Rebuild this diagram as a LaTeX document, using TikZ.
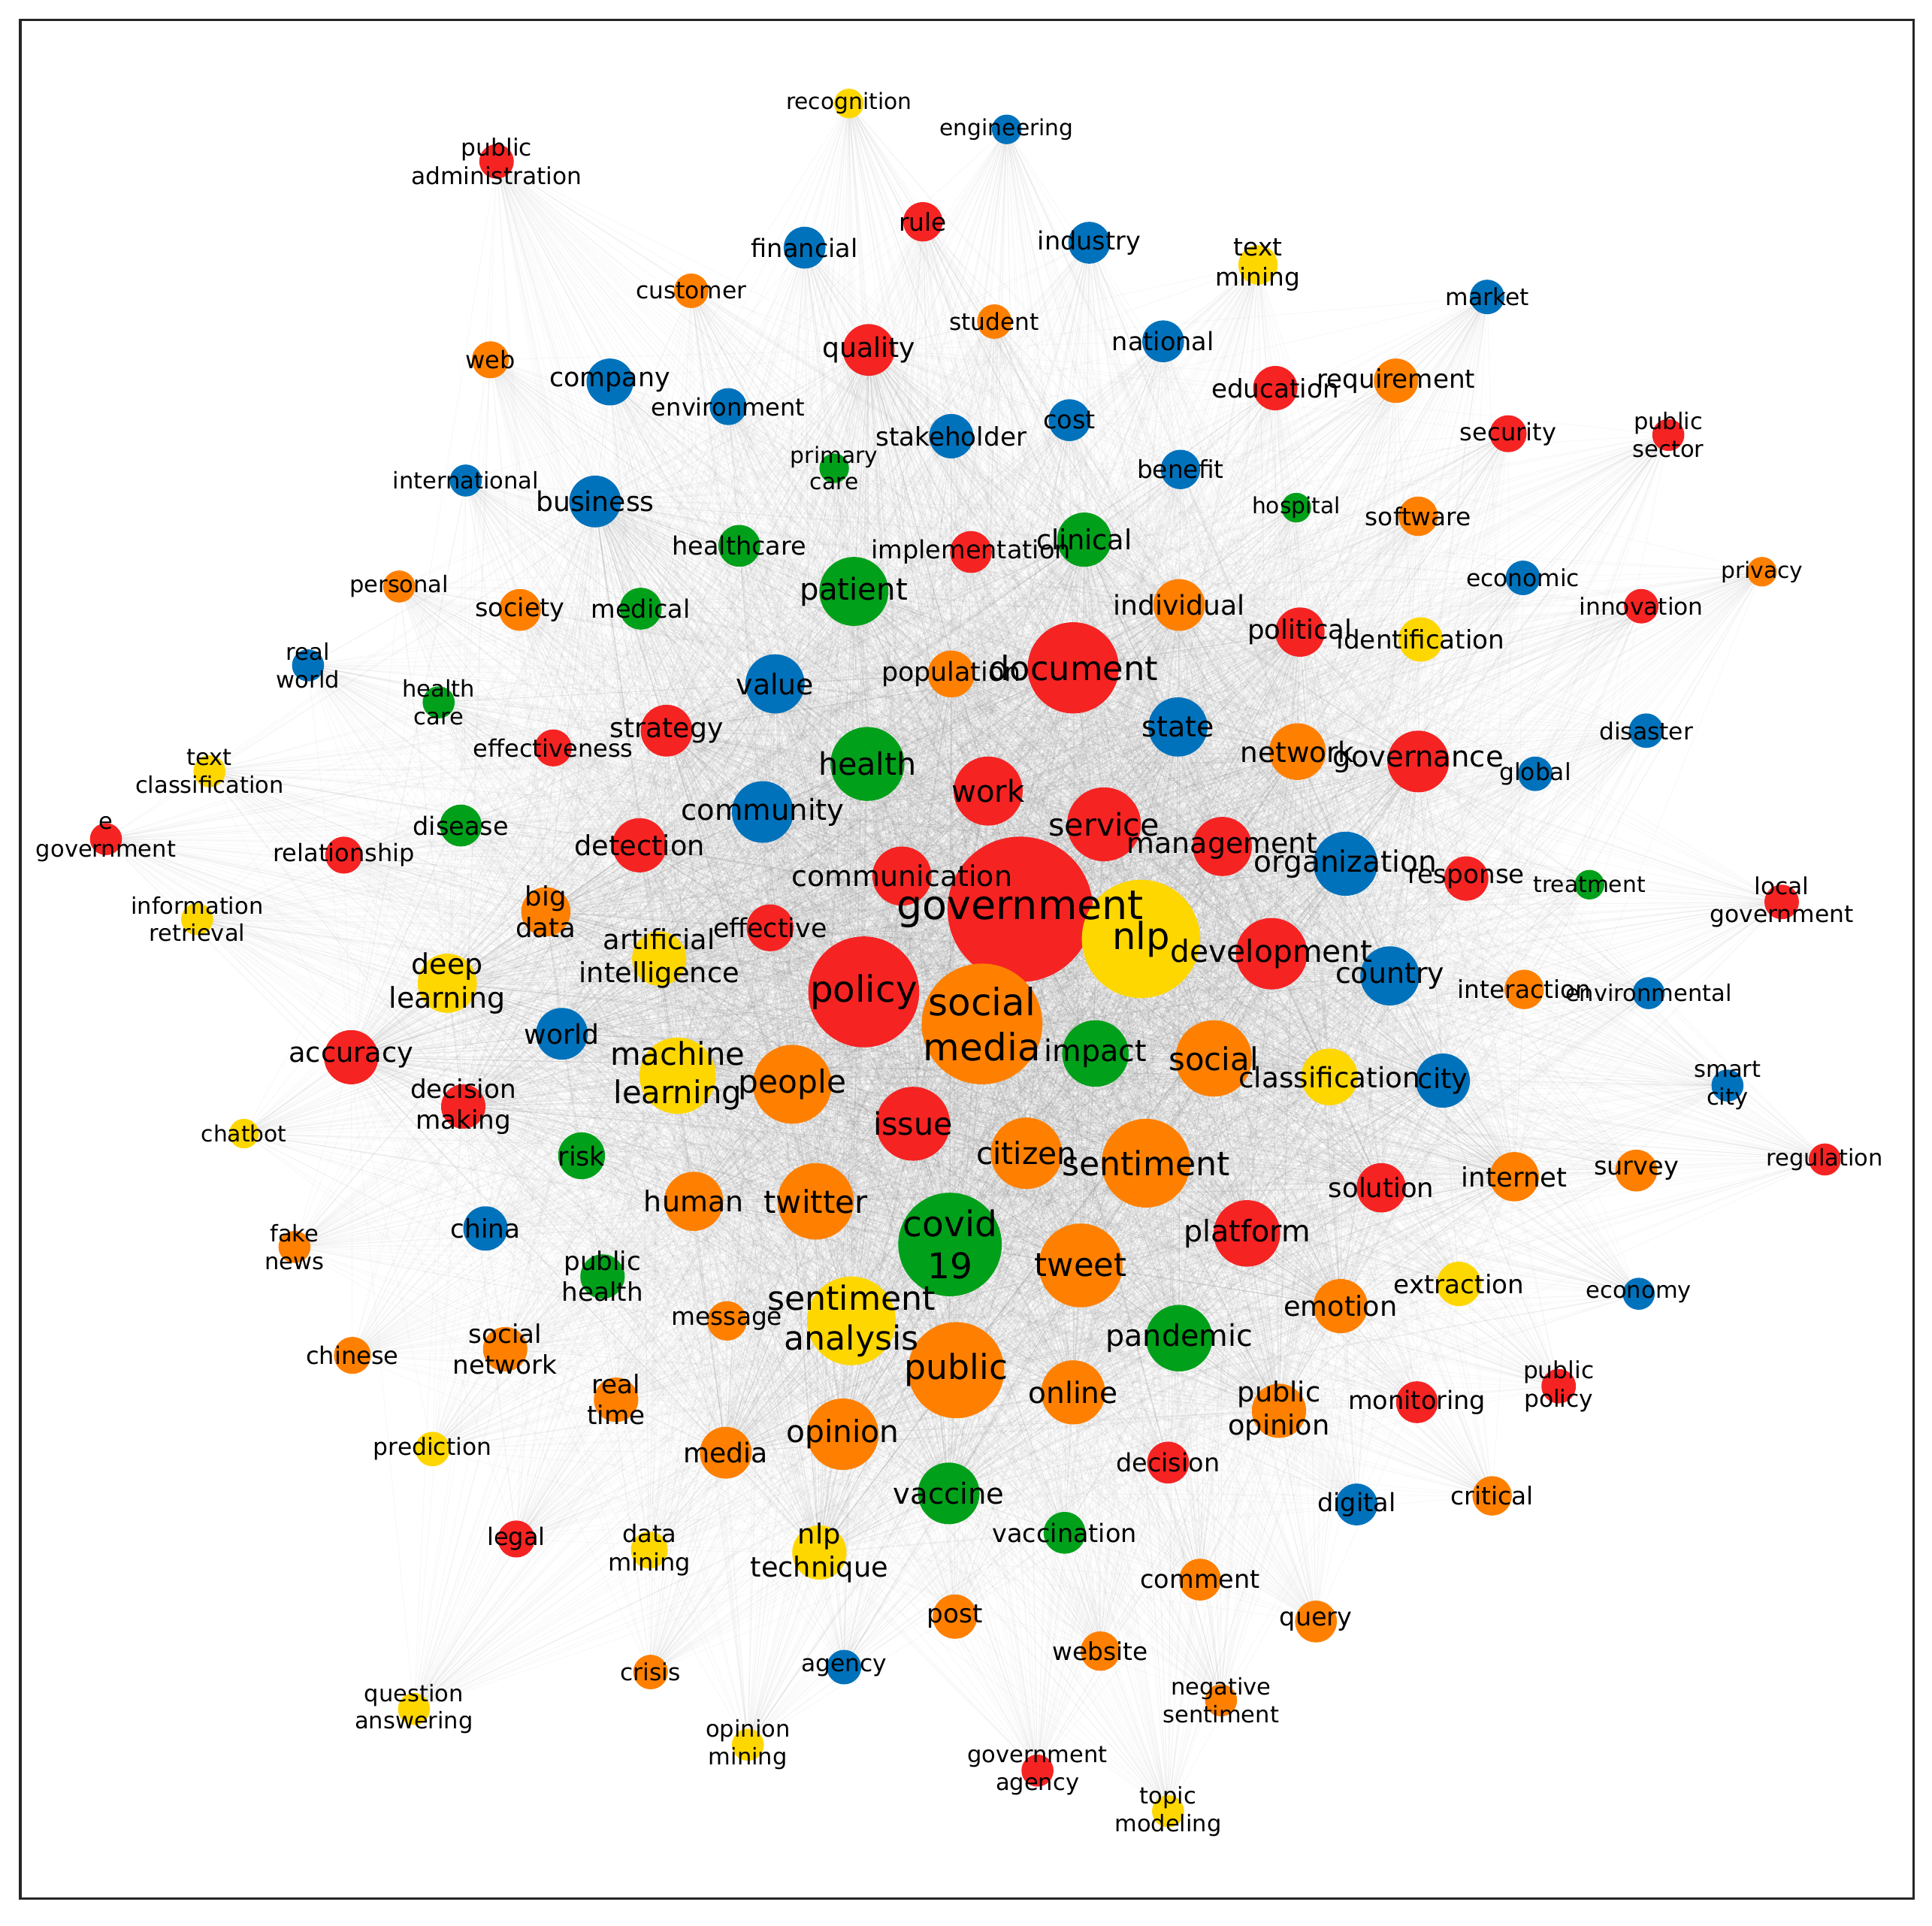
\documentclass[tikz,border=0pt]{standalone}
\usepackage{fontspec}
\setmainfont{DejaVu Sans}
\usetikzlibrary{backgrounds}
\definecolor{R}{HTML}{F62323}
\definecolor{O}{HTML}{FF8000}
\definecolor{Y}{HTML}{FFD700}
\definecolor{B}{HTML}{0072BC}
\definecolor{G}{HTML}{00A01A}
\tikzset{
  kw/.style={circle, inner sep=0pt, draw=none},
  kwlabel/.style={inner sep=0pt, align=center, text=black},
  edge/.style={draw=black!45, line width=0.55pt, draw opacity=0.065},
  frame/.style={draw=black!85, line width=2pt}
}
\def\nodelist{%
recognition/689/84/12/Y/recognition,
engineering/817/105/12/B/engineering,
pubadmin/403/131/14/R/public\\administration,
rule/749/180/16/R/rule,
financial/653/201/17/B/financial,
industry/884/197/17/B/industry,
textmining/1021/215/16/Y/text\\mining,
customer/561/236/14/O/customer,
student/807/261/14/O/student,
market/1207/241/14/B/market,
quality/705/284/21/R/quality,
national/944/277/17/B/national,
web/398/292/15/O/web,
company/495/310/19/B/company,
environment/591/330/15/B/environment,
education/1035/315/18/R/education,
requirement/1133/309/18/O/requirement,
cost/868/341/17/B/cost,
stakeholder/772/354/18/B/stakeholder,
security/1224/352/15/R/security,
pubsector/1354/353/13/R/public\\sector,
primarycare/677/380/12/G/primary\\care,
international/378/390/13/B/international,
benefit/958/381/16/B/benefit,
business/483/407/21/B/business,
hospital/1052/412/12/G/hospital,
software/1151/419/16/O/software,
healthcare/600/443/17/G/healthcare,
implementation/788/448/17/R/implementation,
clinical/880/438/22/G/clinical,
personal/324/476/13/O/personal,
society/422/495/17/O/society,
medical/520/494/17/G/medical,
patient/693/480/28/G/patient,
individual/957/491/21/O/individual,
economic/1236/469/14/B/economic,
privacy/1430/464/12/O/privacy,
innovation/1332/492/14/R/innovation,
political/1055/513/20/R/political,
identification/1153/519/18/Y/identification,
realworld/250/540/13/B/real\\world,
value/629/555/24/B/value,
population/772/547/19/O/population,
document/871/542/37/R/document,
healthcaretwo/356/570/13/G/health\\care,
state/956/590/24/B/state,
strategy/541/593/21/R/strategy,
effectiveness/449/607/15/R/effectiveness,
textclass/170/626/13/Y/text\\classification,
disaster/1336/593/14/B/disaster,
network/1053/610/23/O/network,
governance/1151/618/25/R/governance,
global/1246/628/14/B/global,
health/704/620/30/G/health,
work/802/642/28/R/work,
community/619/659/25/B/community,
service/896/669/30/R/service,
disease/374/670/17/G/disease,
egov/86/681/13/R/e\\government,
relationship/279/694/15/R/relationship,
detection/519/686/22/R/detection,
management/992/687/24/R/management,
organization/1092/701/26/B/organization,
communication/732/711/24/R/communication,
response/1190/713/18/R/response,
treatment/1290/718/12/G/treatment,
localgov/1446/732/14/R/local\\government,
inforet/160/746/13/Y/information\\retrieval,
bigdata/443/740/20/O/big\\data,
government/828/738/59/R/government,
effective/625/753/19/R/effective,
ai/535/778/22/Y/artificial\\intelligence,
nlp/926/762/48/Y/nlp,
development/1032/774/29/R/development,
deeplearning/363/798/24/Y/deep\\learning,
country/1128/792/24/B/country,
interaction/1237/803/16/O/interaction,
environmental/1338/806/13/B/environmental,
policy/701/805/45/R/policy,
socialmedia/797/831/49/O/social\\media,
world/456/839/21/B/world,
accuracy/285/858/22/R/accuracy,
impact/889/855/27/G/impact,
social/985/859/31/O/social,
ml/550/873/31/Y/machine\\learning,
people/643/880/32/O/people,
classification/1079/874/23/Y/classification,
city/1171/877/22/B/city,
smartcity/1402/881/13/B/smart\\city,
decisionmaking/376/898/18/R/decision\\making,
chatbot/198/920/12/Y/chatbot,
issue/741/912/30/R/issue,
risk/472/938/19/G/risk,
citizen/833/936/29/O/citizen,
sentiment/930/944/36/O/sentiment,
regulation/1481/941/13/R/regulation,
survey/1328/950/17/O/survey,
solution/1121/964/20/R/solution,
internet/1229/955/20/O/internet,
human/563/975/24/O/human,
twitter/662/975/31/O/twitter,
china/394/997/18/B/china,
fakenews/239/1012/13/O/fake\\news,
covid/771/1010/42/G/covid\\19,
platform/1012/1001/27/R/platform,
tweet/877/1027/34/O/tweet,
publichealth/489/1036/18/G/public\\health,
extraction/1184/1042/18/Y/extraction,
economy/1330/1050/13/B/economy,
sa/691/1072/36/Y/sentiment\\analysis,
message/590/1072/16/O/message,
emotion/1088/1060/22/O/emotion,
pandemic/957/1086/27/G/pandemic,
socialnetwork/410/1095/18/O/social\\network,
chinese/286/1100/15/O/chinese,
public/776/1112/39/O/public,
realtime/500/1136/18/O/real\\time,
online/871/1130/26/O/online,
publicopinion/1038/1145/22/O/public\\opinion,
monitoring/1150/1138/17/R/monitoring,
publicpolicy/1265/1125/14/R/public\\policy,
opinion/684/1164/29/O/opinion,
prediction/351/1176/14/Y/prediction,
media/589/1179/21/O/media,
decision/948/1187/17/R/decision,
vaccine/770/1212/25/G/vaccine,
critical/1211/1214/16/O/critical,
digital/1101/1221/17/B/digital,
vaccination/864/1244/17/G/vaccination,
legal/419/1249/15/R/legal,
datamining/527/1258/15/Y/data\\mining,
nlptech/665/1260/22/Y/nlp\\technique,
comment/974/1282/17/O/comment,
post/775/1312/18/O/post,
query/1068/1316/17/O/query,
website/893/1340/16/O/website,
crisis/528/1357/14/O/crisis,
agency/685/1353/14/B/agency,
negsent/991/1380/13/O/negative\\sentiment,
qa/336/1387/13/Y/question\\answering,
opmining/607/1416/13/Y/opinion\\mining,
govagency/842/1437/13/R/government\\agency,
topicmod/948/1470/13/Y/topic\\modeling}
\def\hubs{government,nlp,socialmedia,policy,public,document,sentiment,sa,covid,tweet,ml,people,social,twitter,issue,health,service,citizen,development,patient,work,impact,pandemic,platform,online,opinion,organization,value,community,state,management,governance,country,communication,vaccine,human,deeplearning,network,classification,clinical,detection,accuracy,emotion,publicopinion,business,quality,ai,city,nlptech,media,individual,strategy,political,solution,internet,world,effective,population,bigdata,decisionmaking}
\begin{document}
\begin{tikzpicture}[x=1pt,y=-1pt]
\useasboundingbox (0,0) rectangle (1568,1563);
% node discs
\foreach \n/\x/\y/\r/\c/\t in \nodelist {
  \node[kw, fill=\c, minimum size=2*\r] (\n) at (\x,\y) {};
}
% connectors
\begin{pgfonlayer}{background}
\fill[white] (0,0) rectangle (1568,1563);
\foreach \n/\x/\y/\r/\c/\t in \nodelist {
  \foreach \h in \hubs {
    \draw[edge] (\n.center) -- (\h.center);
  }
}
\end{pgfonlayer}
% labels
\foreach \n/\x/\y/\r/\c/\t in \nodelist {
  \pgfmathsetmacro\fs{6+3.5*sqrt(\r)}
  \pgfmathsetmacro\bs{1.2*\fs}
  \node[kwlabel, font={\fontsize{\fs}{\bs}\selectfont}] (lab\n) at (\n.center) {\t};
}
\node[frame, draw, inner sep=0pt, minimum width=1536.5pt, minimum height=1525pt] (frm) at (784.75,778.5) {};
\end{tikzpicture}
\end{document}
